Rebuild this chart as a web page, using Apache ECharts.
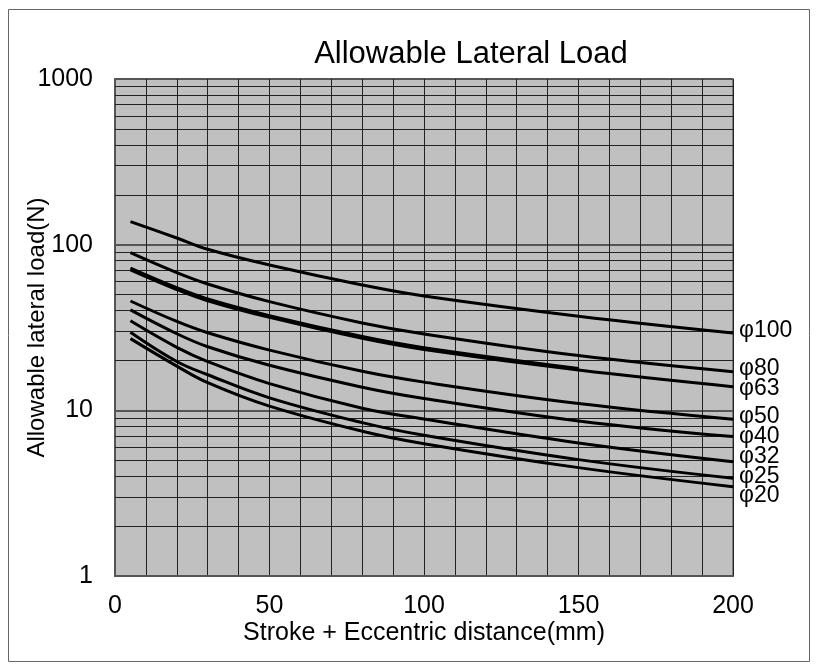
<!DOCTYPE html>
<html>
<head>
<meta charset="utf-8">
<script src="https://cdn.jsdelivr.net/npm/echarts@6/dist/echarts.min.js"></script>
<style>html,body{margin:0;padding:0;background:#fff}#c{width:817px;height:671px}</style>
</head>
<body>
<div id="c"></div>
<script>
var xValues = [5, 20, 30, 50, 80, 100, 150, 200];
var phi100 = [137.7, 109.7, 93.8, 75.4, 57.1, 49.0, 37.0, 29.3];
var phi80 = [89.5, 67.8, 57.9, 45.3, 33.7, 28.9, 21.4, 17.1];
var phi63 = [70.5, 53.6, 45.9, 36.4, 27.2, 23.3, 17.5, 13.9];
var phi63b = [72.3, 55.0, 47.0, 37.3, 27.9, 23.9, 17.9];
var phi50 = [45.7, 34.4, 29.4, 23.1, 17.2, 14.8, 11.0, 8.84];
var phi40 = [40.4, 29.0, 24.2, 18.7, 13.8, 11.8, 8.63, 6.94];
var phi32 = [34.7, 24.0, 19.7, 14.5, 10.3, 8.87, 6.36, 4.90];
var phi25 = [29.6, 19.7, 16.4, 11.9, 8.43, 7.07, 5.04, 3.89];
var phi20 = [27.1, 18.5, 14.7, 10.6, 7.48, 6.29, 4.51, 3.46];
var seriesNames = ['φ100', 'φ80', 'φ63', 'φ50', 'φ40', 'φ32', 'φ25', 'φ20'];
var minorGridValues = [2,3,4,5,6,7,8,9,20,30,40,50,60,70,80,90,200,300,400,500,600,700,800,900];
var labelDy = [-2, -3, 2, -3, 0, -5, -2, 9];

var FONT = 'Liberation Sans, Arial, sans-serif';
function pairs(vals) { return vals.map(function (v, i) { return [xValues[i], v]; }); }
var allVals = [phi100, phi80, phi63, phi50, phi40, phi32, phi25, phi20];

var series = allVals.map(function (vals, i) {
  return {
    name: seriesNames[i], type: 'line', data: pairs(vals), smooth: 0.4,
    symbol: 'none', lineStyle: { color: '#000', width: 3 }, z: 5,
    endLabel: { show: true, formatter: seriesNames[i], color: '#000', fontSize: 23,
      fontFamily: FONT, distance: 6, offset: [0, labelDy[i]] },
    animation: false
  };
});
series.push({
  name: 'φ63b', type: 'line', data: pairs(phi63b), smooth: 0.4, symbol: 'none',
  lineStyle: { color: '#000', width: 3 }, z: 5, animation: false
});
series.push({
  name: 'grid', type: 'line', data: [], silent: true, animation: false, z: 2,
  markLine: {
    silent: true, symbol: 'none', animation: false, label: { show: false },
    lineStyle: { color: '#222', width: 1, type: 'solid' },
    data: minorGridValues.map(function (v) { return { yAxis: v }; })
  }
});

var chart = echarts.init(document.getElementById('c'), null, { renderer: 'canvas' });
chart.setOption({
  animation: false,
  backgroundColor: '#fff',
  title: { text: 'Allowable Lateral Load', left: 466, textAlign: 'center', top: 34,
    textStyle: { fontFamily: FONT, fontSize: 31, fontWeight: 'normal', color: '#000' } },
  graphic: [{ type: 'rect', shape: { x: 8.5, y: 9.5, width: 801, height: 652 },
    style: { fill: 'none', stroke: '#666', lineWidth: 1 }, silent: true }],
  grid: { left: 115, right: 84, top: 79, bottom: 95, show: true, outerBoundsMode: 'none',
    containLabel: false,
    backgroundColor: '#c0c0c0', borderColor: '#666', borderWidth: 1.5 },
  xAxis: {
    type: 'value', min: 0, max: 200, interval: 50,
    name: 'Stroke + Eccentric distance(mm)', nameLocation: 'middle', nameGap: 45,
    nameMoveOverlap: false,
    nameTextStyle: { fontFamily: FONT, fontSize: 25, color: '#000' },
    axisLine: { show: true, lineStyle: { color: '#555', width: 2 } },
    axisTick: { show: false },
    axisLabel: { fontFamily: FONT, fontSize: 25, color: '#000', margin: 18 },
    splitLine: { show: true, lineStyle: { color: '#222', width: 1 } },
    minorTick: { show: false, splitNumber: 5 },
    minorSplitLine: { show: true, lineStyle: { color: '#222', width: 1 } }
  },
  yAxis: {
    type: 'log', logBase: 10, min: 1, max: 1000,
    name: 'Allowable lateral load(N)', nameLocation: 'middle', nameGap: 66,
    nameMoveOverlap: false,
    nameTextStyle: { fontFamily: FONT, fontSize: 24, color: '#000' },
    axisLine: { show: true, lineStyle: { color: '#555', width: 2 } },
    axisTick: { show: true, inside: true, length: 8, lineStyle: { color: '#555', width: 2 } },
    axisLabel: { fontFamily: FONT, fontSize: 25, color: '#000', margin: 22,
      formatter: function (v) { return String(v); } },
    splitLine: { show: true, lineStyle: { color: '#555', width: 2 } }
  },
  series: series
});
</script>
</body>
</html>
